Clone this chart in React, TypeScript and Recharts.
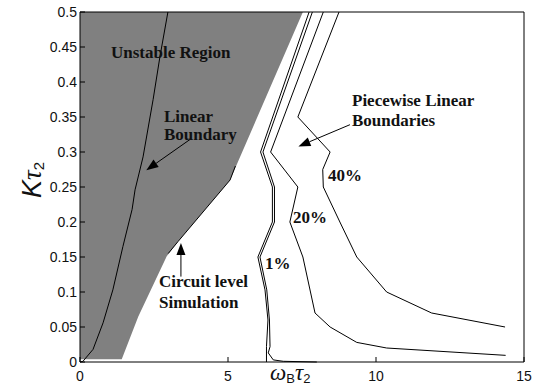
import React from "react";
import { ComposedChart, Area, Scatter, XAxis, YAxis, ReferenceLine } from "recharts";

const xTicks = [0, 5, 10, 15];
const yTicks = [0, 0.05, 0.1, 0.15, 0.2, 0.25, 0.3, 0.35, 0.4, 0.45, 0.5];

// grey unstable region: lower edge, filled up to the top of the plot
const regionX = [0, 1.41, 1.97, 2.93, 3.31, 5.07, 7.53];
const regionLow = [0.004, 0.004, 0.065, 0.151, 0.172, 0.26, 0.5];
const regionTop = 0.5;

// linear boundary (inside the grey region)
const linearX = [0, 0.1, 0.44, 0.78, 1.11, 1.45, 1.76, 1.86, 2.13, 2.47, 2.7, 2.97];
const linearY = [0, 0.001, 0.018, 0.056, 0.103, 0.165, 0.218, 0.246, 0.293, 0.375, 0.436, 0.5];

// circuit level simulation edge
const circuitX = [2.98, 3.31, 5.07, 5.25];
const circuitY = [0.155, 0.172, 0.26, 0.28];

// piecewise linear boundaries
const pw1aX = [7.74, 6.1, 6.5, 6.5, 6.01, 6.25, 6.35, 6.3, 6.3];
const pw1aY = [0.5, 0.3, 0.25, 0.2, 0.15, 0.103, 0.06, 0.022, 0];
const pw1bX = [7.85, 6.18, 6.57, 6.57, 6.08, 6.31, 6.4, 6.42, 6.36, 6.53, 6.87, 8.0];
const pw1bY = [0.5, 0.3, 0.25, 0.2, 0.15, 0.103, 0.06, 0.022, 0.013, 0.003, 0.001, 0];
const pw20X = [8.22, 6.44, 7.36, 7.09, 7.53, 7.94, 8.45, 9.35, 10.36, 14.38];
const pw20Y = [0.5, 0.3, 0.25, 0.2, 0.15, 0.07, 0.05, 0.028, 0.02, 0.0095];
const pw40X = [8.75, 7.36, 8.45, 8.2, 8.22, 8.78, 9.35, 10.36, 11.88, 14.36];
const pw40Y = [0.5, 0.35, 0.3, 0.275, 0.25, 0.2, 0.15, 0.1, 0.07, 0.05];

// annotation arrows: tail -> tip
const arrowTails = [[3.72, 0.318], [3.41, 0.122], [9.12, 0.339]];
const arrowTips = [[2.24, 0.274], [3.41, 0.17], [7.38, 0.308]];

const pts = (xs: number[], ys: number[]) => xs.map((x, i) => ({ x, y: ys[i] }));

const ArrowShape = (props: any) => {
  const { x1, y1, x2, y2 } = props;
  const a = Math.atan2(y2 - y1, x2 - x1);
  const len = 12;
  const half = 4.5;
  const bx = x2 - len * Math.cos(a);
  const by = y2 - len * Math.sin(a);
  const px = -Math.sin(a) * half;
  const py = Math.cos(a) * half;
  return (
    <g>
      <line x1={x1} y1={y1} x2={bx} y2={by} stroke="#000" strokeWidth={1} />
      <polygon points={`${x2},${y2} ${bx + px},${by + py} ${bx - px},${by - py}`} fill="#000" />
    </g>
  );
};

const serif = "'Liberation Serif', 'Times New Roman', serif";
const sans = "'Liberation Sans', Arial, sans-serif";
const noDot = () => <g />;

export default function App() {
  const region = regionX.map((x, i) => ({ x, band: [regionLow[i], regionTop] }));
  const curves = [
    pts(linearX, linearY),
    pts(circuitX, circuitY),
    pts(pw1aX, pw1aY),
    pts(pw1bX, pw1bY),
    pts(pw20X, pw20Y),
    pts(pw40X, pw40Y),
  ];
  const lbl = { fontFamily: serif, fontWeight: 700, fontSize: 17, fill: "#111" };

  return (
    <div style={{ position: "absolute", left: 0, top: 0, width: 542, height: 387, background: "#fff" }}>
      <ComposedChart width={542} height={387} data={region} margin={{ top: 11, right: 17, bottom: 0, left: 0 }}>
        <XAxis
          dataKey="x" type="number" domain={[0, 15]} ticks={xTicks} height={25}
          tickSize={-5} tickMargin={14} stroke="#000"
          tick={{ fontSize: 14, fill: "#111", fontFamily: sans }}
        />
        <XAxis
          xAxisId="top" orientation="top" dataKey="x" type="number" domain={[0, 15]}
          ticks={xTicks} tick={false} tickSize={-5} height={1} stroke="#000"
        />
        <YAxis
          dataKey="y" type="number" domain={[0, 0.5]} ticks={yTicks} width={80}
          tickSize={-5} tickMargin={8} stroke="#000"
          tick={{ fontSize: 14, fill: "#111", fontFamily: sans }}
        />
        <YAxis
          yAxisId="right" orientation="right" type="number" domain={[0, 0.5]}
          ticks={yTicks} tick={false} tickSize={-5} width={1} stroke="#000"
        />
        <Area dataKey="band" type="linear" fill="#808080" fillOpacity={1} stroke="none" isAnimationActive={false} />
        {curves.map((d, i) => (
          <Scatter
            key={i}
            data={d}
            line={{ stroke: "#000", strokeWidth: 1 }}
            shape={noDot}
            isAnimationActive={false}
          />
        ))}
        {arrowTails.map((t, i) => (
          <ReferenceLine
            key={"a" + i}
            segment={[{ x: t[0], y: t[1] }, { x: arrowTips[i][0], y: arrowTips[i][1] }]}
            shape={ArrowShape}
          />
        ))}
      </ComposedChart>
      <svg width={542} height={387} style={{ position: "absolute", left: 0, top: 0, pointerEvents: "none" }}>
        <text x={111} y={58} {...lbl}>Unstable Region</text>
        <text x={164} y={122} {...lbl}>Linear</text>
        <text x={164} y={140} {...lbl}>Boundary</text>
        <text x={159} y={287} {...lbl}>Circuit level</text>
        <text x={159} y={308} {...lbl}>Simulation</text>
        <text x={352} y={106} {...lbl}>Piecewise Linear</text>
        <text x={352} y={126} {...lbl}>Boundaries</text>
        <text x={328} y={181} {...lbl}>40%</text>
        <text x={293} y={223} {...lbl}>20%</text>
        <text x={265} y={269} {...lbl}>1%</text>
        <text x={270} y={380} fill="#111">
          <tspan fontFamily={serif} fontStyle="italic" fontSize={23}>ω</tspan>
          <tspan fontFamily={sans} fontSize={13} dy={3}>B</tspan>
          <tspan fontFamily={serif} fontStyle="italic" fontSize={23} dy={-3}>τ</tspan>
          <tspan fontFamily={sans} fontSize={13} dy={3}>2</tspan>
        </text>
        <text x={0} y={0} transform="translate(41,198) rotate(-90)" fill="#111">
          <tspan fontFamily={sans} fontStyle="italic" fontSize={27}>K</tspan>
          <tspan fontFamily={serif} fontStyle="italic" fontSize={27}>τ</tspan>
          <tspan fontFamily={sans} fontSize={15} dy={3}>2</tspan>
        </text>
      </svg>
    </div>
  );
}
